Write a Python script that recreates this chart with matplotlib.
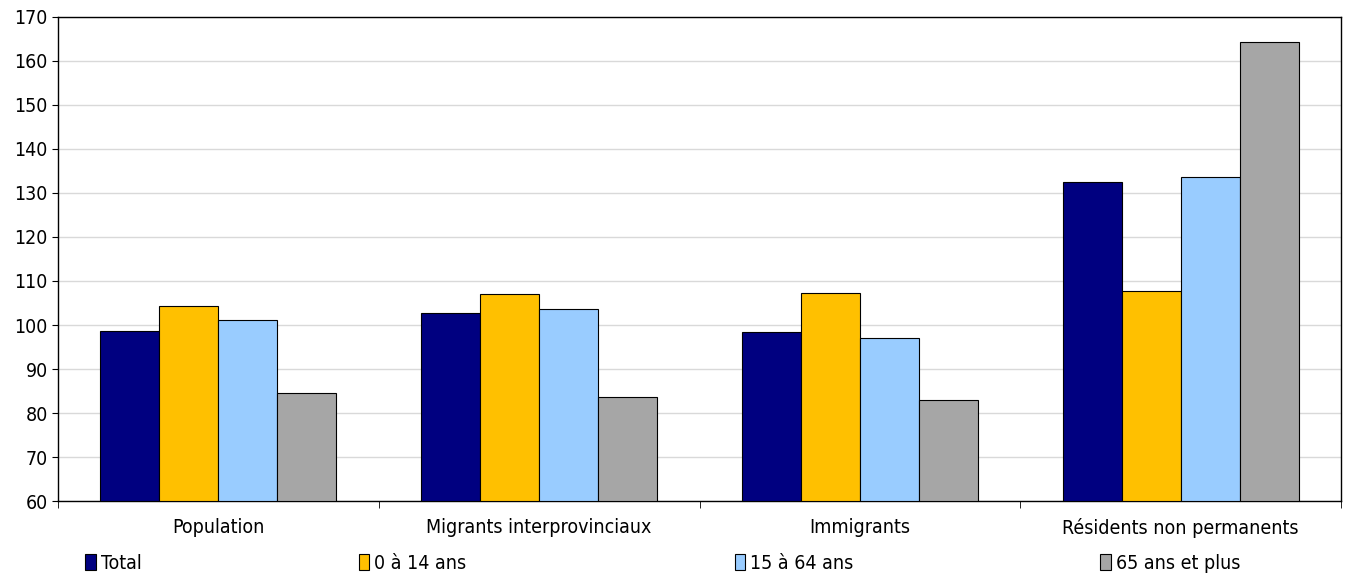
import matplotlib
matplotlib.use("Agg")
import matplotlib.pyplot as plt
from matplotlib.patches import Patch
import numpy as np

plt.rcParams['font.family'] = ['DejaVu Sans']
plt.rcParams['font.stretch'] = 'condensed'

categories = ["Population", "Migrants interprovinciaux", "Immigrants", "Résidents non permanents"]
series_names = ["Total", "0 à 14 ans", "15 à 64 ans", "65 ans et plus"]
total = [98.6, 102.8, 98.3, 132.5]
age_0_14 = [104.3, 107.0, 107.2, 107.8]
age_15_64 = [101.1, 103.6, 97.0, 133.6]
age_65 = [84.6, 83.6, 83.0, 164.4]
colors = ["#000080", "#FFC000", "#99CCFF", "#A6A6A6"]

fig = plt.figure(figsize=(13.53, 5.76), dpi=100)
ax = fig.add_axes([0.0429, 0.1302, 0.9482, 0.8403])

x = np.arange(len(categories))
w = 0.184
for i, vals in enumerate([total, age_0_14, age_15_64, age_65]):
    ax.bar(x + (i - 1.5) * w, np.array(vals) - 60, bottom=60, width=w,
           color=colors[i], edgecolor="black", linewidth=0.8, zorder=3)

ax.set_ylim(60, 170)
ax.set_xlim(-0.5, len(categories) - 0.5)
ax.set_yticks(range(60, 171, 10))
ax.yaxis.grid(True, color="#D9D9D9", linewidth=1, zorder=0)
ax.set_xticks(x)
ax.set_xticklabels(categories, fontsize=14)
ax.tick_params(axis="x", length=0, pad=12)
ax.set_xticks(np.arange(-0.5, len(categories), 1), minor=True)
ax.tick_params(axis="x", which="minor", length=5, color="black")
ax.tick_params(axis="y", labelsize=14, length=4)
for s in ax.spines.values():
    s.set_color("black")
    s.set_linewidth(1)

# legend entries spread along the bottom
legend_x = [0.063, 0.265, 0.543, 0.813]
for name, c, lx in zip(series_names, colors, legend_x):
    fig.legend(handles=[Patch(facecolor=c, edgecolor="black", linewidth=0.8)],
               labels=[name], loc="center left", bbox_to_anchor=(lx, 0.022),
               frameon=False, fontsize=14, handlelength=0.55, handleheight=0.9,
               handletextpad=0.25, borderpad=0, borderaxespad=0)

fig.savefig("out.png", dpi=100)
